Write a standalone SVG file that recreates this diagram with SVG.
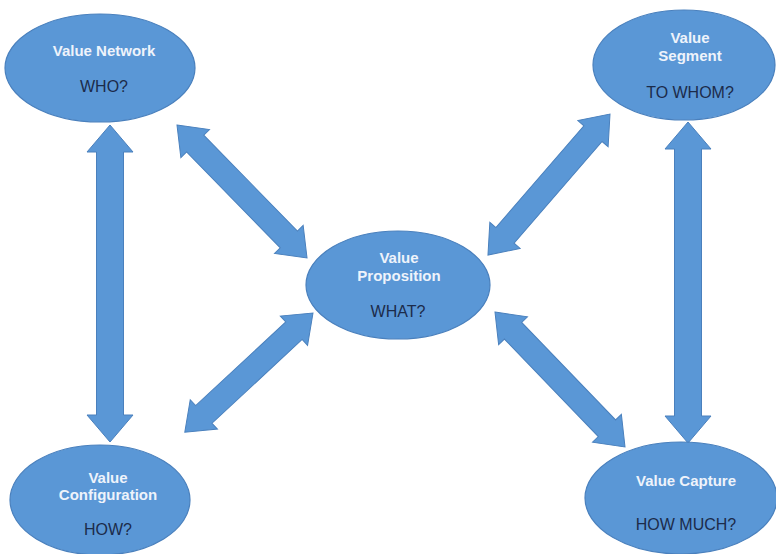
<svg xmlns="http://www.w3.org/2000/svg" width="776" height="554" viewBox="0 0 776 554">
  <style>
    .node { fill: #5a97d6; stroke: #4a80bd; stroke-width: 1.2; }
    .arrow { fill: #5a97d6; stroke: #4a80bd; stroke-width: 1; stroke-linejoin: miter; }
    .title { font-family: "Liberation Sans", Arial, sans-serif; font-size: 15px; font-weight: bold; fill: #eef3fb; text-anchor: middle; }
    .question { font-family: "Liberation Sans", Arial, sans-serif; font-size: 16px; fill: #1c2b4a; text-anchor: middle; }
  </style>
  <rect width="776" height="554" fill="#ffffff"/>

  <!-- double-headed block arrows, drawn along +x then rotated into place -->
  <g id="connectors">
    <polygon class="arrow" transform="translate(110,125) rotate(90)" points="0,0 27,-23 27,-13.5 290,-13.5 290,-23 317,0 290,23 290,13.5 27,13.5 27,23"/>
    <polygon class="arrow" transform="translate(688,122) rotate(90)" points="0,0 27,-23 27,-13.5 294,-13.5 294,-23 321,0 294,23 294,13.5 27,13.5 27,23"/>
    <polygon class="arrow" transform="translate(177,125) rotate(45.65)" points="0,0 26,-20 26,-12 160,-12 160,-20 186,0 160,20 160,12 26,12 26,20"/>
    <polygon class="arrow" transform="translate(610,114) rotate(130.87)" points="0,0 26,-20 26,-12 160.5,-12 160.5,-20 186.5,0 160.5,20 160.5,12 26,12 26,20"/>
    <polygon class="arrow" transform="translate(313,313) rotate(137.1)" points="0,0 26,-20 26,-12 149,-12 149,-20 175,0 149,20 149,12 26,12 26,20"/>
    <polygon class="arrow" transform="translate(495,312) rotate(46.08)" points="0,0 26,-20 26,-12 161.4,-12 161.4,-20 187.4,0 161.4,20 161.4,12 26,12 26,20"/>
  </g>

  <g id="value-network">
    <ellipse class="node" cx="100" cy="68" rx="95" ry="54"/>
    <text class="title" x="104" y="56">Value Network</text>
    <text class="question" x="104" y="92">WHO?</text>
  </g>

  <g id="value-segment">
    <ellipse class="node" cx="684" cy="65" rx="91" ry="55"/>
    <text class="title" x="690" y="43">Value</text>
    <text class="title" x="690" y="61">Segment</text>
    <text class="question" x="690" y="98">TO WHOM?</text>
  </g>

  <g id="value-proposition">
    <ellipse class="node" cx="398" cy="285" rx="92" ry="54"/>
    <text class="title" x="399" y="263">Value</text>
    <text class="title" x="399" y="281">Proposition</text>
    <text class="question" x="398" y="317">WHAT?</text>
  </g>

  <g id="value-configuration">
    <ellipse class="node" cx="100" cy="500" rx="90" ry="55"/>
    <text class="title" x="108" y="483">Value</text>
    <text class="title" x="108" y="500">Configuration</text>
    <text class="question" x="108" y="535">HOW?</text>
  </g>

  <g id="value-capture">
    <ellipse class="node" cx="681" cy="498" rx="96" ry="56"/>
    <text class="title" x="686" y="486">Value Capture</text>
    <text class="question" x="686" y="530">HOW MUCH?</text>
  </g>
</svg>
